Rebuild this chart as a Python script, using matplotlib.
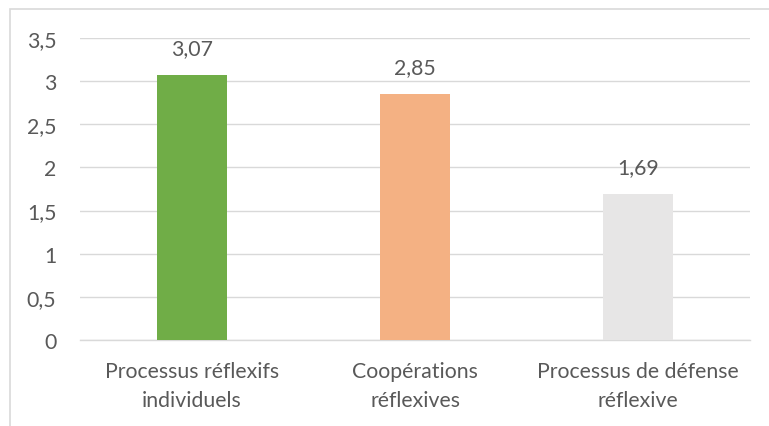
import matplotlib
matplotlib.use("Agg")
import matplotlib.pyplot as plt
from matplotlib.patches import Rectangle

categories = ["Processus réflexifs\nindividuels", "Coopérations\nréflexives", "Processus de défense\nréflexive"]
values = [3.07, 2.85, 1.69]
value_labels = ["3,07", "2,85", "1,69"]
colors = ["#70AD47", "#F4B183", "#E7E6E6"]
yticks = [0, 0.5, 1, 1.5, 2, 2.5, 3, 3.5]
ytick_labels = ["0", "0,5", "1", "1,5", "2", "2,5", "3", "3,5"]

plt.rcParams['font.family'] = ['Lato', 'DejaVu Sans']
txt = "#595959"
fs = 15.3

W, H = 769, 427
fig = plt.figure(figsize=(W/100, H/100), dpi=100)
fig.patches.append(Rectangle((10/W, -0.1), 1.2, 1 - 10/H + 0.1, transform=fig.transFigure,
                             fill=False, edgecolor="#D9D9D9", linewidth=1.2))
ax = fig.add_axes([80/W, 1 - 341/H, 670/W, (341 - 39)/H])

x = list(range(len(categories)))
ax.bar(x, values, width=0.313, color=colors, zorder=3)
for xi, v, lab in zip(x, values, value_labels):
    ax.text(xi, v + 0.2, lab, ha="center", va="bottom", fontsize=fs, color=txt)

ax.set_xlim(-0.5, 2.5)
ax.set_ylim(0, 3.5)
ax.set_yticks(yticks)
ax.set_yticklabels(ytick_labels, fontsize=fs, color=txt)
ax.set_xticks(x)
ax.set_xticklabels(categories, fontsize=fs, color=txt, linespacing=1.6)
ax.tick_params(axis="x", length=0, pad=15)
ax.tick_params(axis="y", length=0, pad=17)
ax.grid(axis="y", color="#D9D9D9", linewidth=1, zorder=0)
for s in ["top", "right", "left"]:
    ax.spines[s].set_visible(False)
ax.spines["bottom"].set_color("#D9D9D9")
ax.spines["bottom"].set_linewidth(1)

fig.savefig("out.png", dpi=100)
